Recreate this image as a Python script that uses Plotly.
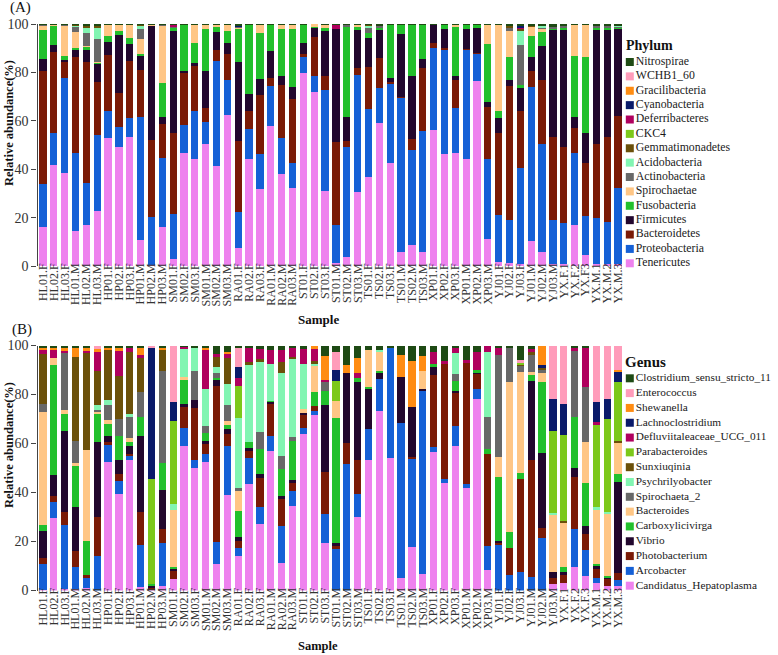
import plotly.graph_objects as go

W, H = 778, 655
SERIF = "Liberation Serif, Times New Roman, serif"

samples_a = ["HL01.F","HL02.F","HL03.F","HL01.M","HL02.M","HL03.M",
             "HP01.F","HP02.F","HP03.F","HP01.M","HP02.M","HP03.M",
             "SM01.F","SM02.F","SM03.F","SM01.M","SM02.M","SM03.M",
             "RA01.F","RA02.F","RA03.F","RA01.M","RA02.M","RA03.M",
             "ST01.F","ST02.F","ST03.F","ST01.M","ST02.M","ST03.M",
             "TS01.F","TS02.F","TS03.F","TS01.M","TS02.M","TS03.M",
             "XP01.F","XP02.F","XP03.F","XP01.M","XP02.M","XP03.M",
             "YJ01.F","YJ02.F","YJ03.F","YJ01.M","YJ02.M","YJ03.M",
             "YX.F.1","YX.F.2","YX.F3","YX.M.1","YX.M.2","YX.M.3"]
samples_b = samples_a[:50] + ["YX.F.3", "YX.M.1", "YX.M.2", "YX.M.3"]

Z6 = [0, 0, 0, 0, 0, 0]

# ---------- Panel A : Phylum (bottom -> top) ----------
phylum_names = ["Tenericutes", "Proteobacteria", "Bacteroidetes", "Firmicutes",
                "Fusobacteria", "Spirochaetae", "Actinobacteria", "Acidobacteria",
                "Gemmatimonadetes", "CKC4", "Deferribacteres", "Cyanobacteria",
                "Gracilibacteria", "WCHB1_60", "Nitrospirae"]
tenericutes = [16, 41.7, 38.5, 14.6, 17, 22.9, 52.8, 49.3, 53.3, 10.7, 0.3, 16.3,
               2.9, 46.6, 44.1, 50.3, 41.3, 62.4, 7.3, 44.1, 31.8, 58, 37.9, 32.4,
               79.9, 71.8, 31.1, 1.1, 3.9, 30.4, 36.9, 59, 42.4, 5.6, 8.7, 5.9,
               56.2, 46.1, 46.6, 44.2, 76.4, 11, 1.8, 1.4, 0.7, 10.5, 5.6, 0.8,
               1, 16.9, 4.4, 1, 1, 1]
proteobacteria = [18, 13.3, 39, 32, 17.2, 31.2, 11.1, 8.3, 8, 51, 19.8, 28.5,
                  18.6, 11.7, 19.9, 9.2, 43.5, 14.5, 14.9, 12.4, 14.3, 16.5, 15.1, 10.3,
                  6.6, 6.7, 41.6, 15.8, 45.4, 48.5, 27.8, 14.7, 33.1, 64.1, 39.2, 49.9,
                  33.9, 43.4, 18.8, 45.1, 11.5, 33.2, 19.3, 17.6, 39.9, 63.6, 44.8, 18.2,
                  16.9, 29.7, 16.3, 19, 17.3, 31.4]
bacteroidetes = [46.5, 33.5, 6.7, 39.8, 50.2, 22.1, 23.3, 14, 23.4, 19.3, 32, 13.9,
                 33.6, 21.3, 18.5, 5.6, 4.5, 10.6, 29.6, 7.5, 24.6, 3, 21.9, 26.3,
                 1.1, 16.3, 5.8, 34.2, 2.5, 2.8, 17.7, 12.4, 0.7, 0.3, 4.6, 25.9,
                 2.2, 0.5, 11.5, 0.3, 0.2, 21.4, 34, 55.4, 23.4, 6.5, 26.5, 34.2,
                 31.1, 10.6, 22, 30.4, 35.1, 29.7]
firmicutes = [5, 3, 1, 2.7, 4.9, 7.5, 5.5, 23.9, 7, 5.8, 47.2, 2.7,
              41.9, 1, 1.5, 15.5, 7.5, 4.5, 32.6, 7.1, 6.6, 11.3, 3.8, 4.8,
              4.4, 3.8, 18.6, 47, 9.9, 15.8, 11.7, 11.4, 1.3, 25.7, 26, 3.7,
              7.3, 8, 1.6, 8.4, 10.1, 2, 6.2, 2.5, 9.4, 5.9, 14.1, 44.6,
              48.8, 4.2, 12.4, 47.4, 44.4, 36.2]
fusobacteria = [12, 8, 1.5, 1.1, 1.3, 0.5, 2.5, 1.7, 2.4, 0.8, 0.2, 14.1,
                1.5, 19, 8, 17.2, 1.8, 5.2, 13.8, 28.5, 18.8, 10.8, 19.1, 24.2,
                7.7, 0.3, 1.4, 0, 37.3, 1.5, 2, 1, 22.1, 4, 21.1, 14.2,
                0, 1.6, 20.1, 1.7, 1.5, 24, 2.7, 9.6, 1.6, 8.5, 5.8, 0.5,
                0.8, 25.5, 31.4, 0.6, 0.6, 0.3]
spirochaetae = [2, 0.2, 12.8, 6.5, 0.3, 0.2, 4.5, 2.5, 5.6, 6.1, 0.2, 24,
                0, 0, 7.7, 1.9, 1.1, 2.5, 0.3, 0, 3.6, 0, 1.9, 1.7,
                0, 1.1, 1.2, 0, 0, 0.7, 0, 0, 0, 0, 0, 0,
                0, 0, 1.1, 0, 0, 8.1, 35.7, 10.7, 0, 4, 1.2, 0,
                0, 12.8, 13.2, 0, 0, 0]
actinobacteria = [0.2, 0.1, 0.2, 2.2, 5.2, 9.5, 0, 0, 0, 4.1, 0, 0.2,
                  0.4, 0, 0, 0, 0, 0, 0.5, 0, 0, 0, 0, 0,
                  0, 0, 0, 0, 0.6, 0, 2.4, 1, 0, 0, 0, 0,
                  0, 0, 0, 0, 0, 0, 0, 1.5, 16.3, 0, 0.6, 0.6,
                  0.5, 0, 0, 0.6, 0.6, 0.4]
acidobacteria = [0, 0, 0, 0.6, 2.4, 4.3, 0, 0, 0, 1.4, 0, 0] + Z6 + Z6 + Z6 + \
                [0.8, 0, 0, 0, 0, 0] + Z6 + [0, 0, 5.9, 0, 0.4, 0] + [0, 0, 0, 0, 0, 0.3]
gemmatimonadetes = [0.1, 0, 0, 0.2, 0.8, 1, 0, 0, 0, 0.4, 0, 0] + Z6 + Z6 + Z6 + \
                   [0.3, 0, 0, 0, 0, 0] + Z6 + [0, 0.5, 1, 0.4, 0, 0] + Z6
ckc4 = [0] * 54
deferribacteres = Z6 + Z6 + [0.8, 0, 0, 0, 0, 0] + Z6 + [0, 0, 0, 1.5, 0, 0] + \
                  Z6 + Z6 + [0, 0, 0.5, 0, 0, 0] + Z6
cyanobacteria = Z6 + Z6 + Z6 + [0.4, 0, 0, 0, 0, 0] + Z6 + Z6 + Z6 + \
                [0, 0, 0.5, 0, 0, 0] + Z6
gracilibacteria = [0] * 54
wchb1_60 = [0] * 54
nitrospirae = [0.2, 0.2, 0.3, 0.3, 0.7, 0.8, 0.3, 0.3, 0.3, 0.4, 0.3, 0.3,
               0.3, 0.4, 0.3, 0.3, 0.3, 0.3, 0.6, 0.4, 0.3, 0.4, 0.3, 0.3,
               0.3, 0, 0.3, 0.4, 0.4, 0.3, 0.4, 0.5, 0.4, 0.3, 0.4, 0.4,
               0.4, 0.4, 0.3, 0.3, 0.3, 0.3, 0.3, 0.8, 0.8, 0.6, 1, 1.1,
               0.9, 0.3, 0.3, 1, 1, 0.7]
phylum_values = [tenericutes, proteobacteria, bacteroidetes, firmicutes, fusobacteria,
                 spirochaetae, actinobacteria, acidobacteria, gemmatimonadetes, ckc4,
                 deferribacteres, cyanobacteria, gracilibacteria, wchb1_60, nitrospirae]

# ---------- Panel B : Genus (bottom -> top) ----------
genus_names = ["Candidatus_Hepatoplasma", "Arcobacter", "Photobacterium", "Vibrio",
               "Carboxylicivirga", "Bacteroides", "Spirochaeta_2", "Psychrilyobacter",
               "Sunxiuqinia", "Parabacteroides", "Defluviitaleaceae_UCG_011",
               "Lachnoclostridium", "Shewanella", "Enterococcus",
               "Clostridium_sensu_stricto_11"]
hepatoplasma = [0.3, 29.4, 0.5, 0.5, 1, 0, 52.5, 39.5, 53.1, 1.6, 0.5, 2,
                4.5, 58.9, 50.1, 52.5, 10.9, 38.8, 14, 43.6, 27, 57, 11.3, 34.3,
                64, 71.5, 19.5, 0, 0, 30, 53.4, 73.3, 54.1, 5, 17.7, 6.8,
                56.5, 43.9, 59, 42, 78.3, 8.2, 0, 0, 0, 0, 0, 2.5,
                3.1, 9.5, 6.1, 3.1, 2, 2]
arcobacter = [10.6, 6.7, 26.1, 9, 4, 14, 7.2, 5.1, 2.1, 16.8, 0.3, 17.5,
              0, 7.4, 3.3, 3.4, 9.1, 20.1, 3.4, 10.5, 7, 5.9, 15, 6.3,
              2.3, 1.7, 11.6, 17, 51.8, 9.5, 12.7, 13.2, 45.4, 63.4, 36.5, 74.5,
              2.1, 1.7, 8.2, 1.6, 4.1, 9.9, 18.8, 6.5, 7.5, 5.4, 21.4, 0,
              0, 15.4, 10.5, 1.9, 0, 2.1]
photobacterium = [2.5, 2.5, 5.4, 6.8, 1.3, 16, 0.8, 2.8, 0.5, 13.6, 0.7, 5.4,
                  3.4, 9, 21.1, 4, 63.5, 5.1, 3, 3.1, 12, 13.4, 11.2, 3.7,
                  5.6, 2, 17.3, 1, 8.4, 13.6, 0, 0, 0, 0, 0.3, 0,
                  29.3, 47.3, 13.8, 49.3, 6.2, 37.5, 0.6, 10.8, 38.1, 47.7, 4.1, 2.5,
                  3.7, 21.4, 6.6, 4.3, 3, 3.1]
vibrio = [10.7, 8.4, 33, 17.7, 0, 30.6, 2.4, 6, 3.2, 30.9, 0.7, 16,
          1.1, 0.7, 3.2, 1, 2.3, 2.1, 1.6, 0.8, 1.4, 0.9, 0.9, 0.7,
          0.6, 0, 27.5, 1.5, 28.4, 32, 16.1, 2.1, 0, 18.8, 20.2, 1.1,
          3.4, 0, 0.5, 0, 0.7, 0, 1, 0, 0, 32.5, 30.6, 2.5,
          0.7, 3.7, 3, 0.5, 0.5, 37.1]
carboxylicivirga = [2.7, 45, 6.9, 17, 14.1, 11.3, 5.2, 9.5, 1.7, 7.9, 0.5, 11.1,
                    0.5, 10.1, 0, 3.5, 1, 1.3, 10.3, 2.6, 10.2, 0.3, 11.3, 16,
                    0, 5.8, 5.6, 51.1, 0, 1.7, 0.9, 1, 0, 0, 0, 0,
                    1.3, 0, 4, 0, 0.5, 2.3, 25.9, 6.5, 2.4, 2.5, 29, 0,
                    2, 20.8, 17.7, 1.1, 0.6, 3.1]
bacteroides = [46.1, 3, 1.9, 1, 37.1, 1.2, 1.4, 0, 1.8, 0, 0, 0,
               23.5, 0.9, 0, 0, 0, 1.7, 8.2, 0, 0, 0, 0, 0,
               1.5, 11, 0, 6.6, 0, 0, 15, 8.2, 0, 0, 0, 7.2,
               0, 0, 0, 0, 0, 0, 8.2, 61.3, 41.2, 1, 3.5, 23.8,
               18.4, 0, 16.7, 22.5, 25.5, 13.2]
spirochaeta_2 = [3.1, 0, 23.6, 9, 0, 0.5, 6.4, 7, 8.4, 10.2, 0, 37.5,
                 0, 0, 11.8, 2.6, 1.8, 6.8, 1.5, 0, 7.1, 0, 5.1, 1.7,
                 0, 0, 3.6, 0, 0, 0, 0, 0, 0, 0, 0, 0,
                 0, 0, 3, 0, 0, 12.9, 41.8, 14.4, 2.8, 6.9, 1.4, 0,
                 0, 27, 22.5, 0, 0, 0]
psychrilyobacter = [0, 0, 0, 0, 0, 2.2, 1.8, 0, 1.1, 0, 0, 0,
                    2.4, 11.8, 9.5, 15.4, 2.7, 8.2, 28.6, 32, 29, 14.9, 34, 31.8,
                    18.6, 0.5, 0, 0, 0, 0, 0, 0.5, 0, 0, 0, 0,
                    0, 0, 8.6, 0, 0, 26.6, 0, 0, 0, 0, 0, 0.5,
                    0, 0, 0, 0.5, 0.5, 0]
sunxiuqinia = [20.7, 0, 0, 34.4, 39.9, 13.7, 20.4, 17.6, 25.5, 13.7, 0, 8.9,
               0, 0, 0, 0, 4.1, 10.6, 0, 0.6, 0.8, 0, 4.5, 1,
               0, 1, 0, 0, 0, 0] + Z6 + Z6 + [0, 0, 0.5, 1.5, 1, 0] + [0.5, 0, 0, 0, 0, 0.5]
parabacteroides = Z6 + [0, 0, 0, 0, 42.8, 0] + [33.8, 0, 0, 0, 0, 0] + \
                  [12.9, 0, 0, 0, 0, 0] + [0, 0, 0, 8.5, 0, 0] + Z6 + Z6 + \
                  [0, 0, 0.5, 0, 0, 33.2] + [35, 0, 0, 33.8, 38.1, 24]
defluviitaleaceae = [1.9, 3.4, 0.4, 0, 0.3, 8, 0, 10.3, 1.8, 1.3, 0, 0,
                     0, 0.8, 0, 16, 1.1, 1.8, 3.3, 6.3, 4, 5.6, 4.8, 3.3,
                     5.9, 5, 1, 0, 0, 1.8] + Z6 + \
                    [4.8, 0.6, 2.4, 1, 7.6, 2.6, 3.2, 0, 0, 1, 0, 0,
                     0, 1, 15.8, 1.1, 0, 0]
lachnoclostridium = Z6 + [0, 0, 0, 0, 53.3, 0] + [7.8, 0, 0, 0, 0, 0] + \
                    [4.5, 0, 0, 0, 0, 0] + [0, 0, 0, 4.2, 0, 0] + Z6 + Z6 + \
                    [0, 0, 0, 0, 1, 13] + [12.9, 0, 0, 8.2, 7.9, 4.4]
shewanella = [0.8, 0.8, 1.2, 3.5, 1.3, 1, 1, 1.2, 0, 3, 0, 0.6,
              0, 0, 0, 0.8, 0, 1] + Z6 + [0, 1.5, 9.5, 0, 3.4, 6.1] + \
             [0, 0, 0, 8.8, 19, 6] + Z6 + [0, 0, 0, 0, 8, 0] + [0, 0, 0, 0, 0, 0.5]
enterococcus = [0, 0, 0, 0, 0, 1.5, 0, 0, 0, 0, 1.2, 0,
                23, 0, 0, 0, 0, 0, 8.2, 0, 0, 0, 0, 0,
                0, 0, 0, 7.5, 0, 0] + Z6 + Z6 + [0, 0, 1, 0, 0, 22] + [23.7, 0, 0, 23, 21.9, 10]
clostridium = [0.4, 0.8, 1, 1.1, 1, 0, 0.9, 1, 0.8, 1, 0, 1,
               0, 0.4, 1, 0.8, 3.5, 2.5, 0.5, 0.5, 1.5, 2, 1.9, 1.2,
               1.5, 0, 4.4, 2.6, 8, 5.3, 1.9, 1.7, 0.5, 4, 6.3, 4.4,
               2.6, 6.5, 0.5, 6.1, 2.6, 0, 0.5, 0.5, 6, 1.5, 0, 0,
               0, 1.2, 1.1, 0, 0, 0]
genus_values = [hepatoplasma, arcobacter, photobacterium, vibrio, carboxylicivirga,
                bacteroides, spirochaeta_2, psychrilyobacter, sunxiuqinia, parabacteroides,
                defluviitaleaceae, lachnoclostridium, shewanella, enterococcus, clostridium]

palette = ["#EE82EE", "#1560D6", "#7A1A06", "#22072E", "#22C02C", "#FFC685",
           "#686868", "#82F5B2", "#6B500A", "#7CC81A", "#B0005E", "#0A1A6A",
           "#FF8C12", "#FF9CBA", "#1E4A14"]

fig = go.Figure()

for name, vals, col in zip(phylum_names, phylum_values, palette):
    fig.add_trace(go.Bar(x=samples_a, y=vals, name=name, marker_color=col,
                         marker_line_width=0, xaxis="x", yaxis="y", showlegend=False))
for name, vals, col in zip(genus_names, genus_values, palette):
    fig.add_trace(go.Bar(x=samples_b, y=vals, name=name, marker_color=col,
                         marker_line_width=0, xaxis="x2", yaxis="y2", showlegend=False))

# custom compact legends
for names, xa, ya, fs in [(phylum_names, "x3", "y3", 11.8), (genus_names, "x4", "y4", 11.3)]:
    fig.add_trace(go.Scatter(
        x=[0.05] * len(names), y=list(range(len(names))), mode="markers+text",
        marker=dict(symbol="square", size=8, color=palette, line=dict(width=0)),
        text=names, textposition="middle right",
        textfont=dict(family=SERIF, size=fs, color="#1a1a1a"),
        cliponaxis=False, hoverinfo="skip", showlegend=False, xaxis=xa, yaxis=ya))

def py(px):
    return 1 - px / H

XDOM = [37.5 / W, 623.5 / W]
tickfont = dict(family=SERIF, size=14, color="#333333")
xtickfont = dict(family=SERIF, size=12, color="#333333")

yax = dict(range=[0, 100], tickvals=[0, 20, 40, 60, 80, 100], ticks="outside",
           ticklen=5, tickwidth=1.3, tickcolor="#444444", showline=True,
           linecolor="#444444", linewidth=1.3, showgrid=False, zeroline=False,
           tickfont=tickfont, automargin=False)
xax = dict(domain=XDOM, type="category", tickangle=-90, showgrid=False,
           showline=False, ticks="", tickfont=xtickfont, automargin=False,
           range=[-0.5, 53.5], tickmode="linear", dtick=1, tick0=0,
           ticklabelstandoff=-6)
hid = dict(visible=False, showgrid=False, zeroline=False, fixedrange=True)

fig.update_layout(
    width=W, height=H, template="none", barmode="stack", bargap=0.33,
    paper_bgcolor="white", plot_bgcolor="white",
    margin=dict(l=0, r=0, t=0, b=0, pad=0), showlegend=False,
    font=dict(family=SERIF, color="#222222"),
    xaxis=dict(xax, anchor="y"),
    yaxis=dict(yax, domain=[py(266), py(24)], anchor="x"),
    xaxis2=dict(xax, anchor="y2"),
    yaxis2=dict(yax, domain=[py(590.5), py(345.5)], anchor="x2"),
    xaxis3=dict(hid, domain=[622 / W, 1], range=[0, 1], anchor="y3"),
    yaxis3=dict(hid, domain=[py(263.3 + 7.19), py(62 - 7.19)], range=[-0.5, 14.5], anchor="x3"),
    xaxis4=dict(hid, domain=[622 / W, 1], range=[0, 1], anchor="y4"),
    yaxis4=dict(hid, domain=[py(585.7 + 7.4), py(378.3 - 7.4)], range=[-0.5, 14.5], anchor="x4"),
)

ann = []
def add_text(txt, x, y, size, bold=False, angle=0, xanchor="center"):
    ann.append(dict(text=("<b>%s</b>" % txt) if bold else txt, x=x / W, y=py(y),
                    xref="paper", yref="paper", showarrow=False, textangle=angle,
                    xanchor=xanchor, yanchor="middle",
                    font=dict(family=SERIF, size=size, color="#111111")))

add_text("(A)", 20, 8, 15)
add_text("(B)", 22, 329, 15)
add_text("Relative abundance(%)", 9, 123, 12.5, bold=True, angle=-90)
add_text("Relative abundance(%)", 9, 445, 12.5, bold=True, angle=-90)
add_text("Sample", 318, 320, 13, bold=True)
add_text("Sample", 318, 646, 12.5, bold=True)
add_text("Phylum", 624, 46, 14, bold=True, xanchor="left")
add_text("Genus", 623, 362, 15, bold=True, xanchor="left")
fig.update_layout(annotations=ann)

fig.write_html("out.html", config={"displayModeBar": False},
               post_script="document.body.style.margin='0px';document.body.style.overflow='hidden';")
